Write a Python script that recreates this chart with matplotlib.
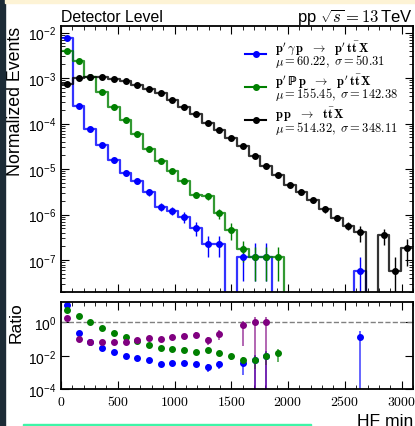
import numpy as np
import matplotlib
matplotlib.use("Agg")
import matplotlib.pyplot as plt
from matplotlib.patches import Rectangle
from matplotlib.lines import Line2D
from matplotlib.ticker import FuncFormatter, LogLocator, MultipleLocator, NullLocator

plt.rcParams['font.family'] = ['Liberation Sans', 'DejaVu Sans']
plt.rcParams['mathtext.fontset'] = 'cm'

# binning of HF min
hf_max = 3100
n_bins = 30

# normalized events per bin
photon = [7.6e-3, 2.4e-4, 7.6e-5, 3.3e-5, 1.55e-5, 8.3e-6, 5.6e-6, 3.1e-6, 1.5e-6, 1.23e-6,
          8.9e-7, 5.1e-7, 2.3e-7, 2.3e-7, 0, 1.17e-7, 1.17e-7, 1.17e-7, 0, 0,
          0, 0, 0, 0, 0, 5.9e-8, 0, 0, 0, 0]
pomeron = [3.9e-3, 2.35e-3, 1.05e-3, 4.9e-4, 2.3e-4, 1.17e-4, 5.9e-5, 2.75e-5, 1.48e-5, 8.9e-6,
           5.4e-6, 2.7e-6, 2.5e-6, 1.07e-6, 4.7e-7, 1.78e-7, 1.17e-7, 1.17e-7, 1.17e-7, 0,
           0, 0, 0, 0, 0, 0, 0, 0, 0, 0]
inclusive = [7.4e-4, 1.0e-3, 1.05e-3, 1.07e-3, 9.5e-4, 8.5e-4, 7.2e-4, 5.75e-4, 4.7e-4, 3.25e-4,
             2.3e-4, 1.6e-4, 1.05e-4, 7.1e-5, 4.8e-5, 3.2e-5, 1.95e-5, 1.17e-5, 7.6e-6, 4.5e-6,
             3.2e-6, 2.05e-6, 1.3e-6, 8.5e-7, 5.75e-7, 4.1e-7, 0, 3.5e-7, 5.9e-8, 1.8e-7]

# relative stat. uncertainties
photon_err = [0.01, 0.05, 0.08, 0.1, 0.12, 0.14, 0.15, 0.16, 0.18, 0.2,
              0.25, 0.35, 0.5, 0.5, 0, 0.8, 1.0, 1.0, 0, 0,
              0, 0, 0, 0, 0, 1.0, 0, 0, 0, 0]
pomeron_err = [0.01, 0.02, 0.03, 0.04, 0.05, 0.06, 0.07, 0.08, 0.09, 0.1,
               0.12, 0.15, 0.15, 0.27, 0.4, 0.5, 0.7, 0.7, 0.7, 0,
               0, 0, 0, 0, 0, 0, 0, 0, 0, 0]
inclusive_err = [0.01, 0.01, 0.01, 0.01, 0.01, 0.01, 0.02, 0.02, 0.02, 0.02,
                 0.03, 0.03, 0.04, 0.04, 0.05, 0.06, 0.07, 0.08, 0.1, 0.11,
                 0.12, 0.13, 0.15, 0.17, 0.2, 0.4, 0, 0.4, 1.0, 0.58]

labels = [r"$\mathbf{p'\,\gamma\,p\ \ \rightarrow\ \ p'\,t\bar{t}\,X}$" "\n" r"$\mu = 60.22,\ \sigma = 50.31$",
          r"$\mathbf{p'\,\mathbb{P}\,p\ \ \rightarrow\ \ p'\,t\bar{t}\,X}$" "\n" r"$\mu = 155.45,\ \sigma = 142.38$",
          r"$\mathbf{p\,p\ \ \rightarrow\ \ t\bar{t}\,X}$" "\n" r"$\mu = 514.32,\ \sigma = 348.11$"]
colors = ['#0000ff', '#008000', '#000000']
purple = '#800080'

edges = np.linspace(0, hf_max, n_bins + 1)
centers = 0.5 * (edges[1:] + edges[:-1])

fig = plt.figure(figsize=(4.15, 4.27), dpi=100)
ax = fig.add_axes([0.147, 0.314, 0.848, 0.623])
axr = fig.add_axes([0.147, 0.0855, 0.848, 0.2055], sharex=ax)

series = [(photon, photon_err), (pomeron, pomeron_err), (inclusive, inclusive_err)]
handles = []
for (vals, errs), col in zip(series, colors):
    v = np.array(vals)
    e = np.array(errs)
    ax.step(edges, np.append(v, v[-1]), where='post', color=col, lw=1.6, alpha=0.8)
    m = v > 0
    lo = v[m] * np.minimum(e[m], 0.7)
    hi = v[m] * e[m]
    ax.errorbar(centers[m], v[m], yerr=[lo, hi], fmt='o', ms=4, color=col,
                elinewidth=1.0, capsize=0)
    handles.append(Line2D([], [], color=col, marker='o', ms=4, lw=1.5))

# ratios
def ratio(a, ea, b, eb):
    a, ea, b, eb = map(np.array, (a, ea, b, eb))
    m = (a > 0) & (b > 0)
    r = np.where(m, a / np.where(b > 0, b, 1), np.nan)
    er = r * np.sqrt(ea ** 2 + eb ** 2)
    return m, r, er

ratio_sets = [(photon, photon_err, inclusive, inclusive_err, colors[0]),
              (pomeron, pomeron_err, inclusive, inclusive_err, colors[1]),
              (photon, photon_err, pomeron, pomeron_err, purple)]
for a, ea, b, eb, col in ratio_sets:
    m, r, er = ratio(a, ea, b, eb)
    eb_ = axr.errorbar(centers[m], r[m], yerr=er[m], fmt='o', ms=4, color=col,
                       elinewidth=1.2, capsize=0)
    eb_[2][0].set_alpha(0.7)

axr.axhline(1, color='gray', ls='--', lw=1)

ax.set_yscale('log')
ax.set_ylim(2e-8, 1.4e-2)
ax.set_xlim(0, hf_max)
axr.set_yscale('log')
axr.set_ylim(1e-4, 17)
axr.yaxis.set_major_locator(LogLocator(base=100, numticks=5))
axr.yaxis.set_minor_locator(NullLocator())
ax.yaxis.set_major_locator(LogLocator(base=10, numticks=12))
ax.yaxis.set_minor_locator(LogLocator(base=10, subs=np.arange(2, 10), numticks=12))

for a in (ax, axr):
    a.xaxis.set_major_locator(MultipleLocator(500))
    a.xaxis.set_minor_locator(MultipleLocator(100))
    a.tick_params(which='both', direction='in', top=True, right=True, labelsize=10)
    a.tick_params(which='major', length=6)
    a.tick_params(which='minor', length=3)
    for s in a.spines.values():
        s.set_linewidth(1.3)
ax.tick_params(labelbottom=False)
axr.xaxis.set_major_formatter(FuncFormatter(lambda x, p: f'${x:g}$'))

ax.set_ylabel('Normalized Events', fontsize=12.8, loc='top')
axr.set_ylabel('Ratio', fontsize=12.6, loc='top')
ax.yaxis.set_label_coords(-0.105, 1.0)
axr.yaxis.set_label_coords(-0.105, 1.0)
axr.set_xlabel('HF min', fontsize=12.6, loc='right', labelpad=3)

ax.set_title('Detector Level', loc='left', fontsize=11.4, pad=2)
ax.set_title(r'pp $\sqrt{s} = 13\,$TeV', loc='right', fontsize=12, pad=2)

leg = ax.legend(handles, labels, loc='upper right', bbox_to_anchor=(0.99, 0.995), frameon=False,
                fontsize=9, handlelength=1.7, handletextpad=0.7, labelspacing=0.15)
for t in leg.get_texts():
    t.set_linespacing(0.7)

# screenshot frame
fig.patches.append(Rectangle((0, 0), 5 / 415, 1, transform=fig.transFigure,
                             color='#1c2b36', zorder=10))
fig.patches.append(Rectangle((5 / 415, 1 - 4 / 427), 1, 4 / 427, transform=fig.transFigure,
                             color='#fdf3d5', zorder=10))
fig.patches.append(Rectangle((23 / 415, 0), 288 / 415, 2 / 427, transform=fig.transFigure,
                             color='#3ef5a8', zorder=10))

fig.savefig('out.png', dpi=100)
